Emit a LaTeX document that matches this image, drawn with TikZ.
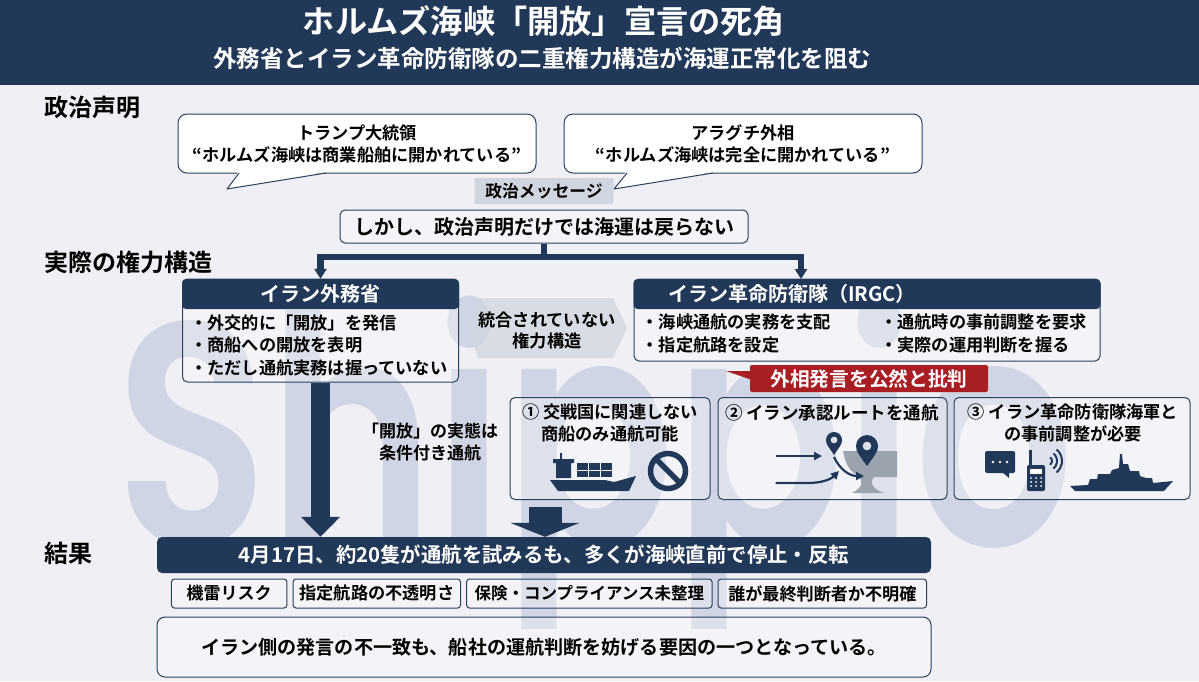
\documentclass[tikz,border=0pt]{standalone}
\usepackage{fontspec}
\setmainfont{Noto Sans CJK JP}[BoldFont={Noto Sans CJK JP Bold}]
\newfontfamily\wmfont{Poppins SemiBold}
\usepackage{xcolor}
\usetikzlibrary{calc, arrows.meta}
\definecolor{fondo}{RGB}{238,240,245}
\definecolor{marca}{RGB}{207,213,228}
\definecolor{navy}{RGB}{33,56,88}
\definecolor{borde}{RGB}{45,64,92}
\definecolor{etiqueta}{RGB}{208,214,224}
\definecolor{rojo}{RGB}{168,30,35}
\definecolor{canal}{RGB}{154,163,174}
\newcommand{\fs}[2]{\fontsize{#1}{#2}\selectfont\bfseries}
\tikzset{
	caja/.style={draw=borde, line width=1pt, rounded corners=5pt, fill=white, fill opacity=.3, text opacity=1, inner sep=0pt, text=black, align=center},
	globo/.style={caja, fill opacity=1, rounded corners=9pt, minimum width=358pt, minimum height=59pt, font=\fs{17.2}{22}},
	chip/.style={caja, rounded corners=3pt, minimum height=29pt},
	cabeza/.style={fill=navy, rounded corners=4pt, inner sep=0pt, text=white, align=center},
	rotulo/.style={inner sep=0pt, font=\fs{24}{28}, text=black, anchor=west},
	lista/.style={inner sep=0pt, align=left, anchor=west, text=black, font=\fs{17.2}{23}},
	condtext/.style={inner sep=0pt, align=center, anchor=north, font=\fs{17.2}{22}},
	flecha/.style={color=navy, line width=6.5pt},
	punta/.style={-{Triangle[width=12pt, length=10pt, sep=0pt]}},
	ruta/.style={navy, line width=2.2pt, -{Triangle[width=8pt, length=8pt]}},
}
\begin{document}
\begin{tikzpicture}[x=1pt, y=-1pt]
	\useasboundingbox (0,0) rectangle (1199,681);
	\fill[fondo] (0,0) rectangle (1199,681);
	%
	% marca de agua
	\node (marca) [inner sep=0pt, anchor=base, xscale=.79, text=marca, font=\wmfont\fontsize{318}{318}\selectfont] at (595,545) {Shippio};
	%
	% cabecera
	\fill[navy] (0,0) rectangle (1199,85);
	\node (titulo) [inner sep=0pt, text=white, font=\fs{32.2}{38}] at (544,21) {ホルムズ海峡「開放」宣言の死角};
	\node (subtitulo) [inner sep=0pt, text=white, font=\fs{23.5}{30}] at (542,58) {外務省とイラン革命防衛隊の二重権力構造が海運正常化を阻む};
	%
	\node (rotulo1) [rotulo] at (44,107) {政治声明};
	\node (rotulo2) [rotulo] at (44,262) {実際の権力構造};
	\node (rotulo3) [rotulo] at (44,553) {結果};
	%
	% globos
	\node (trump) [globo] at (357,143.5) {トランプ大統領\\“ホルムズ海峡は商業船舶に開かれている”};
	\fill[white] (238,172) -- (227,189) -- (327,172) -- cycle;
	\draw[borde, line width=1pt, line join=round] (239,173) -- (227,189) -- (326,173);
	\node (araghchi) [globo] at (743,143.5) {アラグチ外相\\“ホルムズ海峡は完全に開かれている”};
	\fill[white] (626,172) -- (614,189) -- (714,172) -- cycle;
	\draw[borde, line width=1pt, line join=round] (627,173) -- (614,189) -- (713,173);
	\node (mensaje) [fill=etiqueta, rounded corners=2pt, inner sep=0pt, minimum width=139pt, minimum height=26pt, font=\fs{16.8}{20}] at (544,191) {政治メッセージ};
	\node (seiji) [caja, minimum width=408pt, minimum height=33pt, font=\fs{20}{24}] at (544,226.5) {しかし、政治声明だけでは海運は戻らない};
	%
	% ministerio
	\node (gaimu) [caja, minimum width=276pt, minimum height=103pt] at (320.5,330.5) {};
	\node (gaimuhead) [cabeza, minimum width=277pt, minimum height=30pt, font=\fs{20}{24}] at (320.5,294) {イラン外務省};
	\node (gaimutext) [lista, font=\fs{17.2}{22.5}] at (190,345) {・外交的に「開放」を発信\\・商船への開放を表明\\・ただし通航実務は握っていない};
	%
	% IRGC
	\node (irgc) [caja, minimum width=466pt, minimum height=82pt] at (867,320) {};
	\node (irgchead) [cabeza, minimum width=467pt, minimum height=30pt] at (867,294) {};
	\node (irgctitle) [inner sep=0pt, text=white, font=\fs{20}{24}] at (792,294) {イラン革命防衛隊（IRGC）};
	\node (irgctext1) [lista] at (641.5,333.5) {・海峡通航の実務を支配\\・指定航路を設定};
	\node (irgctext2) [lista] at (880,333.5) {・通航時の事前調整を要求\\・実際の運用判断を握る};
	%
	% hexagono
	\fill[etiqueta, fill opacity=.75] (468,328) -- (478,298) -- (613,298) -- (627,328) -- (613,358) -- (478,358) -- cycle;
	\node (nointegrado) [inner sep=0pt, align=center, font=\fs{17.2}{21.5}] at (547,330.5) {統合されていない\\権力構造};
	%
	% conectores
	\coordinate (cruce) at (544,257);
	\coordinate (irgcin) at (801,279);
	\draw[flecha] (seiji.south) -- (cruce);
	\draw[flecha, punta] (cruce) -| (gaimuhead.north);
	\draw[flecha, punta] (cruce) -| (irgcin);
	%
	% critica
	\node (critica) [fill=rojo, rounded corners=2pt, inner sep=0pt, text=white, minimum width=238pt, minimum height=27pt, font=\fs{19.7}{24}] at (869,378.5) {外相発言を公然と批判};
	\fill[rojo] (726,371) -- (752,371) -- (752,380) -- cycle;
	%
	% condiciones
	\node (cond1) [caja, minimum width=200pt, minimum height=102pt, anchor=north] at (610,397) {};
	\node (cond2) [caja, minimum width=229pt, minimum height=102pt, anchor=north] at (832.5,397) {};
	\node (cond3) [caja, minimum width=236pt, minimum height=102pt, anchor=north] at (1072,397) {};
	\node (cond1text) [condtext] at (610,404) {① 交戦国に関連しない\\商船のみ通航可能};
	\node (cond2text) [condtext, font=\fs{17.5}{22}] at (832,404) {② イラン承認ルートを通航};
	\node (cond3text) [condtext] at (1073,404) {③ イラン革命防衛隊海軍と\\の事前調整が必要};
	%
	% buque
	\fill[navy] (550,480) -- (605,480) -- (614,482) -- (636,476) -- (629,491) -- (558,491) -- cycle;
	\fill[navy] (553,459) rectangle (574,463) (556,463) rectangle (571,478) (560,453) rectangle (562,459);
	\foreach \cx in {577,589,601}
		\foreach \cy in {463,470.5}
			\fill[navy] (\cx,\cy) rectangle ++(11,6.5);
	\draw[navy, line width=5.5pt] (668,471) circle (17.5pt);
	\draw[navy, line width=5.5pt] (656,459) -- (680,483);
	%
	% ruta
	\fill[canal] (843,451) -- (897,451) -- (897,477) -- (874,477) .. controls (869,482) and (872,489) .. (884,493) -- (852,493) .. controls (862,488) and (864,482) .. (858,476) .. controls (852,472) and (846,468) .. (843,451) -- cycle;
	\draw[ruta] (775.5,456) -- (822,456);
	\draw[ruta] (775.5,483) -- (808,483) .. controls (820,483) and (830,480) .. (839,471);
	\draw[ruta] (834,457) .. controls (840,470) and (850,476) .. (864,476);
	\fill[navy, even odd rule] (834,455) .. controls (829,447) and (826,445) .. (826,440) arc[start angle=180, end angle=0, radius=8pt] .. controls (842,445) and (839,447) .. (834,455) -- cycle (834,440) circle (3.5pt);
	\fill[navy, even odd rule] (867,466) .. controls (860,456) and (856,452) .. (856,446) arc[start angle=180, end angle=0, radius=11pt] .. controls (878,452) and (874,456) .. (867,466) -- cycle (867,446) circle (4.5pt);
	%
	% radio y fragata
	\fill[navy, rounded corners=1.5pt] (985,451) rectangle (1015,473);
	\fill[navy] (1002,472) -- (1009,478) -- (1009,472) -- cycle;
	\foreach \cx in {993,1000,1007}
		\fill[white] (\cx,462) circle (1.4pt);
	\fill[navy] (1029,450) rectangle (1032,466);
	\fill[navy, rounded corners=2pt] (1027,465) rectangle (1045,491);
	\fill[white] (1030,469) rectangle (1042,474);
	\foreach \cx in {1031,1036,1041}
		\foreach \cy in {478,482,486}
			\fill[white] (\cx,\cy) circle (1pt);
	\foreach \rr in {5,10,15}
		\draw[navy, line width=2pt] ({1047+\rr*cos(50)},{461-\rr*sin(50)}) arc[start angle=50, end angle=-50, radius=\rr pt];
	\fill[navy] (1070,486) -- (1088,485) -- (1090,479) -- (1097,479) -- (1098,474) -- (1110,474) -- (1112,470) -- (1119,468) -- (1120,454) -- (1122,454) -- (1123,464) -- (1128,464) -- (1130,471) -- (1139,471) -- (1140,476) -- (1146,478) -- (1152,478) -- (1153,483) -- (1173,481) -- (1164,491) -- (1075,491) -- cycle;
	%
	% flechas grandes
	\node (condicion) [inner sep=0pt, align=center, font=\fs{17}{22}] at (430,442.5) {「開放」の実態は\\条件付き通航};
	\node (resultado) [fill=navy, rounded corners=5pt, inner sep=0pt, text=white, minimum width=774pt, minimum height=36pt, font=\fs{20.4}{24}] at (544,555) {4月17日、約20隻が通航を試みるも、多くが海峡直前で停止・反転};
	\coordinate (origen) at (545,507);
	\draw[navy, line width=19pt, -{Triangle[width=38pt, length=20pt, sep=0pt]}] (gaimu.south) -- (gaimu.south |- resultado.north);
	\draw[navy, line width=33pt, -{Triangle[width=69pt, length=14pt, sep=0pt]}] (origen) -- (origen |- resultado.north);
	%
	% factores
	\node (chip1) [chip, minimum width=115.5pt, font=\fs{17}{20}] at (229.2,593.5) {機雷リスク};
	\node (chip2) [chip, minimum width=167.5pt, font=\fs{17.2}{20}] at (376.8,593.5) {指定航路の不透明さ};
	\node (chip3) [chip, minimum width=245.5pt, font=\fs{16.5}{20}] at (589.3,593.5) {保険・コンプライアンス未整理};
	\node (chip4) [chip, minimum width=208.5pt, font=\fs{17.1}{20}] at (822.3,593.5) {誰が最終判断者か不明確};
	\node (conclusion) [caja, rounded corners=8pt, minimum width=774pt, minimum height=60pt, font=\fs{19.1}{24}] at (544,647) {イラン側の発言の不一致も、船社の運航判断を妨げる要因の一つとなっている。};
\end{tikzpicture}
\end{document}
